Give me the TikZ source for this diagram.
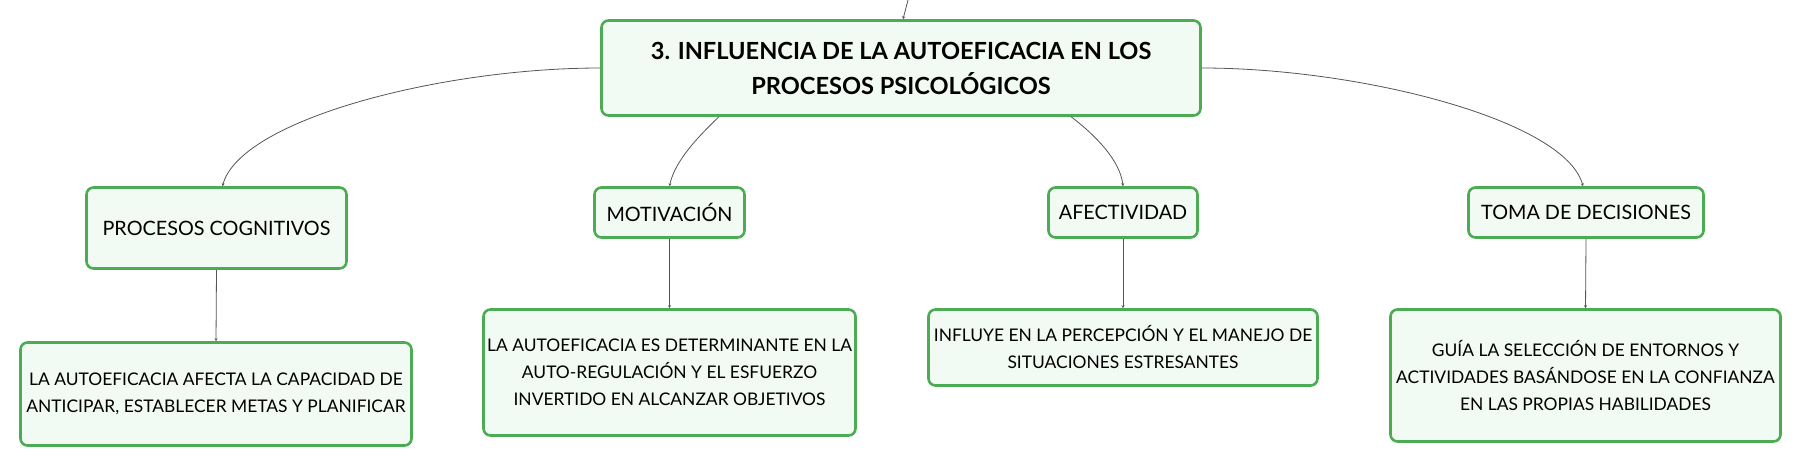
\documentclass[tikz,border=0pt]{standalone}
\usepackage{fontspec}
\setmainfont{Lato}
\usetikzlibrary{arrows.meta}

\definecolor{boxgreen}{RGB}{76,172,84}
\definecolor{boxfill}{RGB}{241,250,243}
\definecolor{linkgray}{RGB}{85,85,85}

\tikzset{
	box/.style={draw=boxgreen, fill=boxfill, line width=2.6pt, rounded corners=7pt,
		align=center, inner sep=0pt, font=\fontsize{19.8}{27}\selectfont},
	leaf/.style={box, font=\fontsize{17.4}{27}\selectfont},
	title/.style={box, font=\fontsize{23.6}{35}\selectfont\bfseries},
	link/.style={draw=linkgray, line width=0.8pt, -{Stealth[length=3pt,width=3pt]}}
}

\begin{document}
\begin{tikzpicture}[x=1pt,y=-1pt]

	\useasboundingbox (0,0) rectangle (1803,467);

	\node[title, minimum width=599, minimum height=95] (main) at (901,68)
		{3. INFLUENCIA DE LA AUTOEFICACIA EN LOS\\PROCESOS PSICOLÓGICOS};

	\node[box, minimum width=260, minimum height=81] (cog) at (216.5,228) {PROCESOS COGNITIVOS};
	\node[box, minimum width=150, minimum height=50] (mot) at (669.5,212.5) {MOTIVACIÓN};
	\node[box, minimum width=149, minimum height=50] (afe) at (1123,212.5) {AFECTIVIDAD};
	\node[box, minimum width=235, minimum height=50] (tom) at (1586,212.5) {TOMA DE DECISIONES};

	\node[leaf, minimum width=391, minimum height=103] (cogtext) at (216,394)
		{LA AUTOEFICACIA AFECTA LA CAPACIDAD DE\\ANTICIPAR, ESTABLECER METAS Y PLANIFICAR};
	\node[leaf, minimum width=372, minimum height=126] (mottext) at (669.5,372.5)
		{LA AUTOEFICACIA ES DETERMINANTE EN LA\\AUTO-REGULACIÓN Y EL ESFUERZO\\INVERTIDO EN ALCANZAR OBJETIVOS};
	\node[leaf, minimum width=389, minimum height=76] (afetext) at (1123,347.5)
		{INFLUYE EN LA PERCEPCIÓN Y EL MANEJO DE\\SITUACIONES ESTRESANTES};
	\node[leaf, minimum width=390, minimum height=132] (tomtext) at (1585.5,375.5)
		{GUÍA LA SELECCIÓN DE ENTORNOS Y\\ACTIVIDADES BASÁNDOSE EN LA CONFIANZA\\EN LAS PROPIAS HABILIDADES};

	\coordinate (parent) at (908,0);
	\draw[link] (parent) -- ([xshift=2]main.north);

	\draw[link] (main.west) .. controls (440,68) and (240,120) .. ([xshift=6]cog.north);
	\draw[link] (main.195.6) .. controls (700,135) and (675,160) .. (mot.north);
	\draw[link] (main.-16.35) .. controls (1095,135) and (1120,160) .. (afe.north);
	\draw[link] (main.east) .. controls (1360,68) and (1565,120) .. ([xshift=-3]tom.north);

	\draw[link] (cog.south) -- (cogtext.north);
	\draw[link] (mot.south) -- (mottext.north);
	\draw[link] (afe.south) -- (afetext.north);
	\draw[link] (tom.south) -- (tomtext.north);

\end{tikzpicture}
\end{document}
